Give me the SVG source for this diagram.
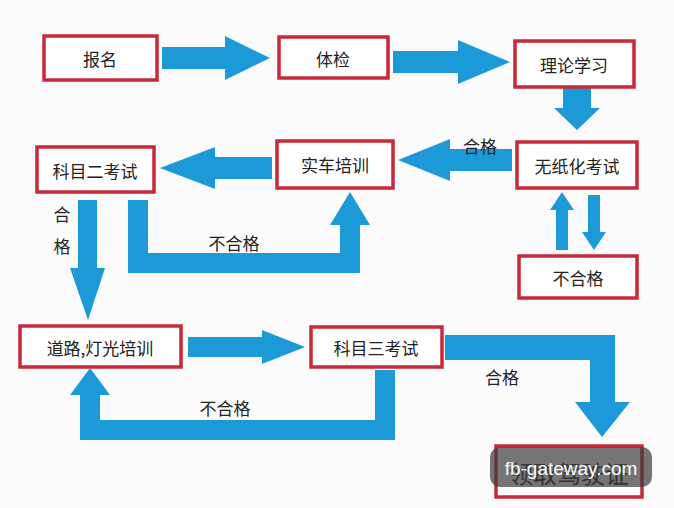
<svg xmlns="http://www.w3.org/2000/svg" width="674" height="508" viewBox="0 0 674 508">
<style>
.b{fill:#fff;stroke:#c8283a;stroke-width:3.5}
.t{font-family:"Noto Sans CJK SC",sans-serif;font-size:17px;fill:#222;text-anchor:middle;dominant-baseline:central}
.a{fill:#1c9ad8}
</style>
<rect width="674" height="508" fill="#fbfbfb"/>
<g id="connectors">
<polygon class="a" points="162,47 225,47 225,36 270,58 225,80 225,69 162,69"/>
<polygon class="a" points="393,51 458,51 458,40 510,62 458,84 458,73 393,73"/>
<polygon class="a" points="563,88 591,88 591,108 600,108 577,130 554,108 563,108"/>
<polygon class="a" points="512,149 450,149 450,139 398,160 450,181 450,171 512,171"/>
<polygon class="a" points="272,157 215,157 215,147 160,168 215,189 215,179 272,179"/>
<polygon class="a" points="556,250 568,250 568,210 574,210 562,192 550,210 556,210"/>
<polygon class="a" points="588,195 600,195 600,232 606,232 594,250 582,232 588,232"/>
<polygon class="a" points="78,200 97,200 97,268 105,268 88,320 70,268 78,268"/>
<polygon class="a" points="128,200 148,200 148,253 340,253 340,225 330,225 350,192 370,225 360,225 360,273 128,273"/>
<polygon class="a" points="188,337 262,337 262,330 305,347 262,364 262,357 188,357"/>
<polygon class="a" points="375,370 395,370 395,440 80,440 80,395 70,395 90,368 110,395 100,395 100,420 375,420"/>
<polygon class="a" points="445,335 615,335 615,402 630,402 602,437 575,402 590,402 590,360 445,360"/>
</g>
<g id="n1"><rect class="b" x="44" y="36" width="113" height="44"/><text class="t" x="100" y="58">报名</text></g>
<g id="n2"><rect class="b" x="279" y="37" width="109" height="41"/><text class="t" x="333" y="58">体检</text></g>
<g id="n3"><rect class="b" x="515" y="41" width="119" height="46"/><text class="t" x="574" y="64">理论学习</text></g>
<g id="n4"><rect class="b" x="517" y="142" width="120" height="46"/><text class="t" x="577" y="165">无纸化考试</text></g>
<g id="n5"><rect class="b" x="519" y="256" width="118" height="42"/><text class="t" x="578" y="277">不合格</text></g>
<g id="n6"><rect class="b" x="277" y="141" width="116" height="47"/><text class="t" x="335" y="164">实车培训</text></g>
<g id="n7"><rect class="b" x="37" y="147" width="117" height="45"/><text class="t" x="95" y="170">科目二考试</text></g>
<g id="n8"><rect class="b" x="20" y="326" width="161" height="41"/><text class="t" x="100" y="347">道路,灯光培训</text></g>
<g id="n9"><rect class="b" x="311" y="327" width="131" height="40"/><text class="t" x="376" y="347">科目三考试</text></g>
<g id="n10"><rect class="b" x="496" y="446" width="146" height="51"/><text class="t" x="569" y="472" style="font-size:24px">领取驾驶证</text></g>
<g id="labels">
<text class="t" x="480" y="145">合格</text>
<text class="t" x="62" y="213">合</text>
<text class="t" x="62" y="245">格</text>
<text class="t" x="234" y="242">不合格</text>
<text class="t" x="225" y="407">不合格</text>
<text class="t" x="502" y="376">合格</text>
</g>
<rect x="490" y="447" width="162" height="40" rx="10" fill="#3a3a3a" opacity="0.7"/>
<text x="571" y="468" style="font-family:'Liberation Sans',sans-serif;font-size:19px;fill:#fff;text-anchor:middle;dominant-baseline:central">fb-gateway.com</text>
</svg>
